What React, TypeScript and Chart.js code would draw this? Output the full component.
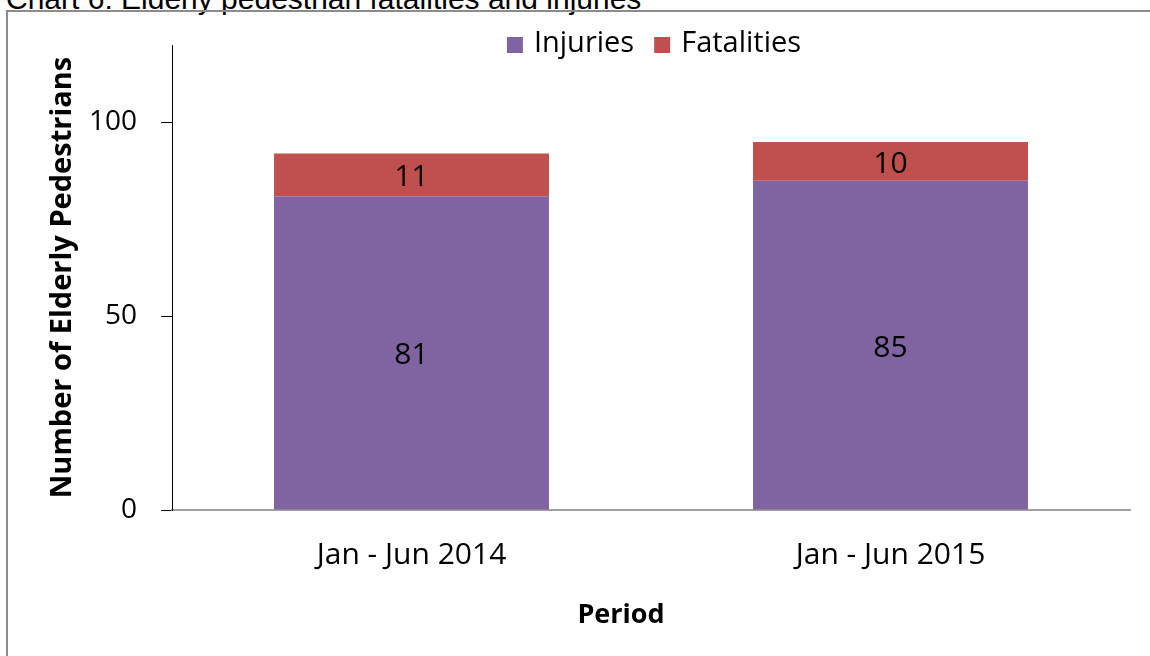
import React, { useEffect, useRef } from "react";
import { Chart, registerables } from "chart.js";

Chart.register(...registerables);

const categories = ["Jan - Jun 2014", "Jan - Jun 2015"];
const injuries = [81, 85];
const fatalities = [11, 10];
const yTicks = [0, 50, 100];
const seriesNames = ["Injuries", "Fatalities"];
const seriesColors = ["#8064A2", "#C0504D"];
const pageTitle = "Chart 6: Elderly pedestrian fatalities and injuries";
const xTitle = "Period";
const yTitle = "Number of Elderly Pedestrians";

const FONT = "'Open Sans', sans-serif";

const dataLabelPlugin = {
  id: "dataLabels",
  afterDatasetsDraw(chart: any) {
    const ctx = chart.ctx;
    ctx.save();
    ctx.font = `30px ${FONT}`;
    ctx.fillStyle = "#000";
    ctx.textAlign = "center";
    ctx.textBaseline = "middle";
    chart.data.datasets.forEach((ds: any, i: number) => {
      const meta = chart.getDatasetMeta(i);
      meta.data.forEach((el: any, j: number) => {
        const p = el.getCenterPoint();
        ctx.fillText(String(ds.data[j]), p.x, p.y + 3);
      });
    });
    ctx.restore();
  },
};

const xTitlePlugin = {
  id: "xTitle",
  afterDraw(chart: any) {
    const ctx = chart.ctx;
    const area = chart.chartArea;
    ctx.save();
    ctx.font = `bold 27px ${FONT}`;
    ctx.fillStyle = "#000";
    ctx.textAlign = "center";
    ctx.textBaseline = "middle";
    ctx.fillText(xTitle, (area.left + area.right) / 2 - 30, area.bottom + 105);
    ctx.restore();
  },
};

const legendPlugin = {
  id: "customLegend",
  afterDraw(chart: any) {
    const ctx = chart.ctx;
    ctx.save();
    ctx.font = `29px ${FONT}`;
    ctx.textBaseline = "middle";
    ctx.textAlign = "left";
    const box = 16;
    const gapText = 11;
    const gapItem = 20;
    const items = chart.data.datasets.map((ds: any) => ({
      label: ds.label,
      color: ds.backgroundColor,
      w: ctx.measureText(ds.label).width,
    }));
    const total =
      items.reduce((a: number, it: any) => a + box + gapText + it.w, 0) +
      gapItem * (items.length - 1);
    const area = chart.chartArea;
    const cx = (area.left + area.right) / 2 + 3;
    const cy = area.top - 1;
    let x = cx - total / 2;
    items.forEach((it: any) => {
      ctx.fillStyle = it.color;
      ctx.fillRect(x, cy - box / 2 + 1, box, box);
      x += box + gapText;
      ctx.fillStyle = "#000";
      ctx.fillText(it.label, x, cy);
      x += it.w + gapItem;
    });
    ctx.restore();
  },
};

export default function App() {
  const canvasRef = useRef<HTMLCanvasElement | null>(null);

  useEffect(() => {
    if (!canvasRef.current) return;
    const chart = new Chart(canvasRef.current, {
      type: "bar",
      data: {
        labels: categories,
        datasets: [
          {
            label: seriesNames[0],
            data: injuries,
            backgroundColor: seriesColors[0],
            barPercentage: 0.574,
            categoryPercentage: 1,
          },
          {
            label: seriesNames[1],
            data: fatalities,
            backgroundColor: seriesColors[1],
            barPercentage: 0.574,
            categoryPercentage: 1,
          },
        ],
      },
      options: {
        responsive: false,
        maintainAspectRatio: false,
        animation: false,
        layout: { padding: { left: 41, right: 20, top: 45, bottom: 20 } },
        plugins: {
          legend: { display: false },
          tooltip: { enabled: false },
          title: { display: false },
        },
        scales: {
          x: {
            stacked: true,
            grid: { display: false, drawTicks: false },
            border: { display: true, color: "#A0A0A0", width: 2 },
            ticks: {
              color: "#000",
              font: { family: FONT, size: 30 },
              padding: 27,
            },
            title: { display: false },
            afterFit: (s: any) => {
              s.height = 126;
            },
          },
          y: {
            stacked: true,
            min: 0,
            max: 120,
            afterBuildTicks: (s: any) => {
              s.ticks = yTicks.map((v) => ({ value: v }));
            },
            grid: {
              display: true,
              drawOnChartArea: false,
              drawTicks: true,
              tickLength: 11,
              color: "#000",
            },
            border: { display: true, color: "#000", width: 1 },
            ticks: {
              color: "#000",
              font: { family: FONT, size: 28 },
              padding: 24,
            },
            title: {
              display: true,
              text: yTitle,
              color: "#000",
              font: { family: FONT, size: 29, weight: "bold" },
            },
            afterFit: (s: any) => {
              s.width = 131;
            },
          },
        },
      },
      plugins: [dataLabelPlugin, legendPlugin, xTitlePlugin],
    });
    return () => chart.destroy();
  }, []);

  return (
    <div
      style={{
        position: "fixed",
        left: 0,
        top: 0,
        width: 1150,
        height: 656,
        overflow: "hidden",
        background: "#fff",
      }}
    >
      <div
        style={{
          position: "absolute",
          left: 6,
          top: -16,
          fontFamily: "'Liberation Sans', Arial, sans-serif",
          fontSize: 30,
          lineHeight: "30px",
          whiteSpace: "nowrap",
          color: "#000",
        }}
      >
        {pageTitle}
      </div>
      <div
        style={{
          position: "absolute",
          left: 6,
          top: 10,
          width: 1200,
          height: 700,
          border: "2px solid #8C8C8C",
          boxSizing: "border-box",
        }}
      />
      <canvas
        ref={canvasRef}
        width={1150}
        height={656}
        style={{ position: "absolute", left: 0, top: 0, width: 1150, height: 656 }}
      />
    </div>
  );
}
